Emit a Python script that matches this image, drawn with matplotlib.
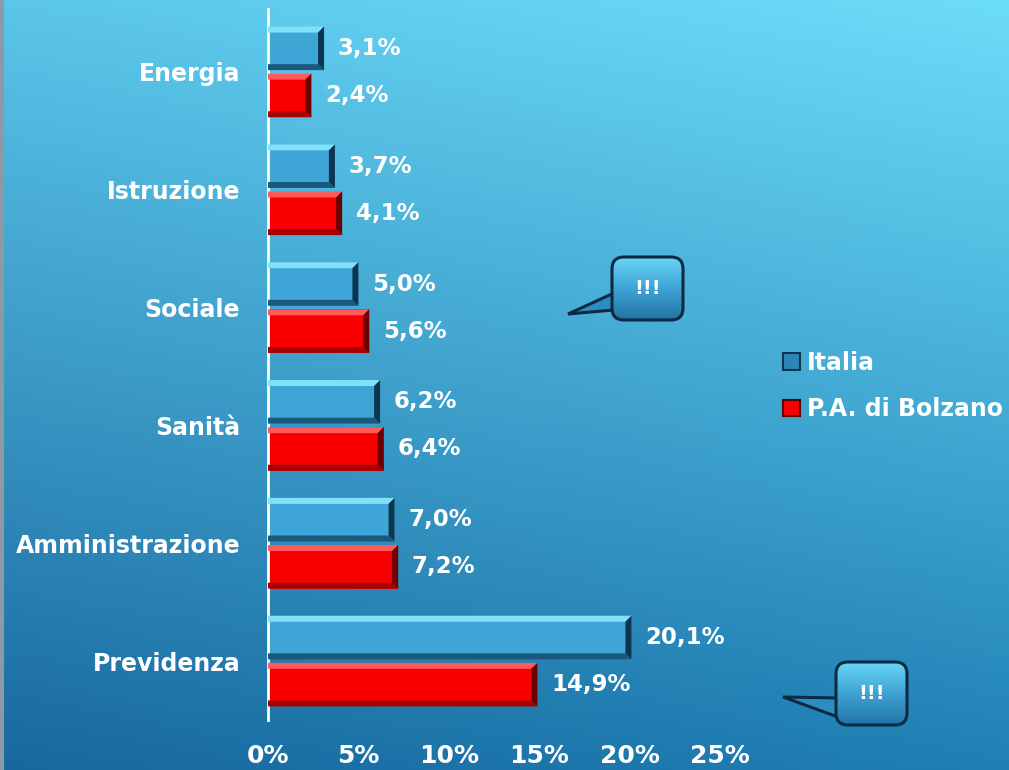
import matplotlib.pyplot as plt
import numpy as np
from matplotlib.patches import Polygon, FancyBboxPatch, Patch
from matplotlib.colors import LinearSegmentedColormap

# Data
categories = ['Energia', 'Istruzione', 'Sociale', 'Sanità', 'Amministrazione', 'Previdenza']
italia = [3.1, 3.7, 5.0, 6.2, 7.0, 20.1]
bolzano = [2.4, 4.1, 5.6, 6.4, 7.2, 14.9]
series_names = ['Italia', 'P.A. di Bolzano']
xticks = [0, 5, 10, 15, 20, 25]

W, H = 1009, 770
fig = plt.figure(figsize=(W / 100, H / 100), dpi=100)

# background axes in pixel units (gradient + callouts)
bg = fig.add_axes([0, 0, 1, 1], zorder=0)
bg.set_xlim(0, W)
bg.set_ylim(0, H)
bg.axis('off')

# bilinear gradient from the four corner colours
tl = np.array([91, 198, 234]) / 255
tr = np.array([108, 221, 249]) / 255
bl = np.array([24, 104, 158]) / 255
br = np.array([31, 128, 181]) / 255
gx, gy = np.meshgrid(np.linspace(0, 1, 200), np.linspace(0, 1, 200))
gx = gx[..., None]
gy = gy[..., None]
top = tl * (1 - gx) + tr * gx
bot = bl * (1 - gx) + br * gx
rgb = bot * (1 - gy) + top * gy
bg.imshow(rgb, extent=[0, W, 0, H], origin='lower', aspect='auto', zorder=0)
bg.plot([1.5, 1.5], [0, H], color='#8a9aa6', lw=3, zorder=1)

# callouts "!!!"
box_cmap = LinearSegmentedColormap.from_list('box', ['#2274a6', '#3fa3d3', '#68d6f5'])


def callout(x0, y0, w, h, tail):
    t = Polygon(tail, closed=True, fc='#2b8ec2', ec='#0d2a44', lw=2.2, zorder=3)
    bg.add_patch(t)
    box = FancyBboxPatch((x0, y0), w, h, boxstyle='round,pad=0,rounding_size=12',
                         fc='none', ec='#0d2a44', lw=2.2, zorder=5)
    bg.add_patch(box)
    img = bg.imshow(np.linspace(0, 1, 50).reshape(-1, 1), cmap=box_cmap,
                    extent=[x0, x0 + w, y0, y0 + h], origin='lower', aspect='auto', zorder=4)
    img.set_clip_path(box)
    bg.text(x0 + w / 2, y0 + h / 2, '!!!', color='white', fontsize=14, fontweight='bold',
            ha='center', va='center', zorder=6)


callout(612, 450, 71, 63, [(614, 477), (568, 456), (614, 460)])
callout(836, 45, 71, 63, [(838, 72), (783, 73), (838, 53)])

# main chart
ax = fig.add_axes([268 / W, 50 / H, (720 - 268) / W, (757 - 50) / H], zorder=1)
ax.patch.set_visible(False)

y = np.arange(len(categories))
h = 0.37
off = 0.2
dx = 6 / 18.08
dy = 6 / 118

styles = [
    dict(face='#3da6d6', top='#82e0f9', bot='#1b587e', right='#0e3550'),
    dict(face='#f80000', top='#ff5a5a', bot='#a80000', right='#6a0000'),
]

for vals, sign, st in [(italia, -1, styles[0]), (bolzano, 1, styles[1])]:
    bars = ax.barh(y + sign * off, vals, height=h, color=st['face'], zorder=2)
    for b, v in zip(bars, vals):
        x0 = b.get_x()
        w = b.get_width()
        ya = b.get_y()
        yb = ya + b.get_height()
        ax.add_patch(Polygon([(x0, ya), (w, ya), (w - dx, ya + dy), (x0, ya + dy)],
                             fc=st['top'], ec='none', zorder=3))
        ax.add_patch(Polygon([(x0, yb), (w, yb), (w - dx, yb - dy), (x0, yb - dy)],
                             fc=st['bot'], ec='none', zorder=3))
        ax.add_patch(Polygon([(w, ya), (w, yb), (w - dx, yb - dy), (w - dx, ya + dy)],
                             fc=st['right'], ec='none', zorder=3))
        ax.text(w + 0.75, b.get_y() + b.get_height() / 2, f'{v:.1f}%'.replace('.', ','),
                color='white', fontsize=16.5, fontweight='bold', va='center', ha='left')

ax.set_xlim(0, 25)
ax.set_ylim(len(categories) - 0.5, -0.5)
ax.set_yticks(y)
ax.set_yticklabels(categories, color='white', fontsize=17, fontweight='bold')
ax.set_xticks(xticks)
ax.set_xticklabels([f'{t}%' for t in xticks], color='white', fontsize=18, fontweight='bold')
ax.tick_params(axis='both', length=0)
ax.tick_params(axis='y', pad=20)
ax.tick_params(axis='x', pad=17)
for s in ['top', 'right', 'bottom']:
    ax.spines[s].set_visible(False)
ax.spines['left'].set_color('white')
ax.spines['left'].set_linewidth(2)
ax.spines['left'].set_bounds(len(categories) - 0.5, -0.53)

# legend
handles = [Patch(fc='#2a86b8', ec='#0e3550', lw=1.5),
           Patch(fc=styles[1]['face'], ec='#5a0000', lw=1.5)]
fig.legend(handles, series_names, loc='center left', bbox_to_anchor=(762 / W, 1 - 386 / H),
           frameon=False, labelcolor='white', prop=dict(size=17, weight='bold'),
           handlelength=0.7, handleheight=0.7, handletextpad=0.3, labelspacing=0.95)

fig.savefig('out.png', dpi=100)
